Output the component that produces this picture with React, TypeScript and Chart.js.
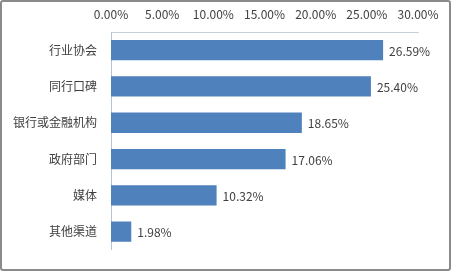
import React, { useEffect, useRef } from "react";
import { Chart, registerables } from "chart.js";

Chart.register(...registerables);

const categories = ["行业协会", "同行口碑", "银行或金融机构", "政府部门", "媒体", "其他渠道"];
const values = [26.59, 25.4, 18.65, 17.06, 10.32, 1.98];
const axisMax = 30;
const axisStep = 5;

const FONT = "'Noto Sans CJK SC', 'Noto Sans', sans-serif";

const valueLabels = {
  id: "valueLabels",
  afterDatasetsDraw(chart: any) {
    const ctx = chart.ctx;
    const meta = chart.getDatasetMeta(0);
    ctx.save();
    ctx.font = `12px ${FONT}`;
    ctx.fillStyle = "#404040";
    ctx.textAlign = "left";
    ctx.textBaseline = "middle";
    meta.data.forEach((bar: any, i: number) => {
      ctx.fillText(values[i].toFixed(2) + "%", bar.x + 6, bar.y + 1);
    });
    ctx.restore();
  },
};

export default function App() {
  const ref = useRef<HTMLCanvasElement | null>(null);
  useEffect(() => {
    if (!ref.current) return;
    const chart = new Chart(ref.current, {
      type: "bar",
      data: {
        labels: categories,
        datasets: [
          {
            data: values,
            backgroundColor: "#4F81BD",
            borderColor: "#4A7EBB",
            borderWidth: 0,
            barPercentage: 0.56,
            categoryPercentage: 1,
          },
        ],
      },
      options: {
        indexAxis: "y",
        animation: false,
        responsive: false,
        maintainAspectRatio: false,
        layout: { padding: { left: 0, top: 0, right: 33, bottom: 15 } },
        plugins: { legend: { display: false }, tooltip: { enabled: false } },
        scales: {
          x: {
            position: "top",
            min: 0,
            max: axisMax,
            grid: { display: false, drawTicks: false },
            border: { display: true, color: "#C6CFDA", width: 1 },
            ticks: {
              stepSize: axisStep,
              padding: 10,
              color: "#404040",
              font: { family: FONT, size: 12 },
              callback: (v: any) => Number(v).toFixed(2) + "%",
            },
            afterFit: (s: any) => {
              s.height = 32;
            },
          },
          y: {
            grid: { display: false, drawTicks: false },
            border: { display: true, color: "#B4C3D6", width: 1 },
            ticks: {
              padding: 14,
              color: "#404040",
              font: { family: FONT, size: 12 },
            },
            afterFit: (s: any) => {
              s.width = 111;
            },
          },
        },
      },
      plugins: [valueLabels],
    });
    return () => chart.destroy();
  }, []);
  return (
    <div style={{ position: "absolute", left: 0, top: 0, width: 451, height: 271, background: "#fff" }}>
      <canvas ref={ref} width={451} height={271} style={{ display: "block" }} />
      <div
        style={{
          position: "absolute",
          left: 0,
          top: 0,
          width: 451,
          height: 271,
          boxSizing: "border-box",
          border: "2px solid #8a8a8a",
          borderRadius: 3,
          pointerEvents: "none",
        }}
      />
    </div>
  );
}
